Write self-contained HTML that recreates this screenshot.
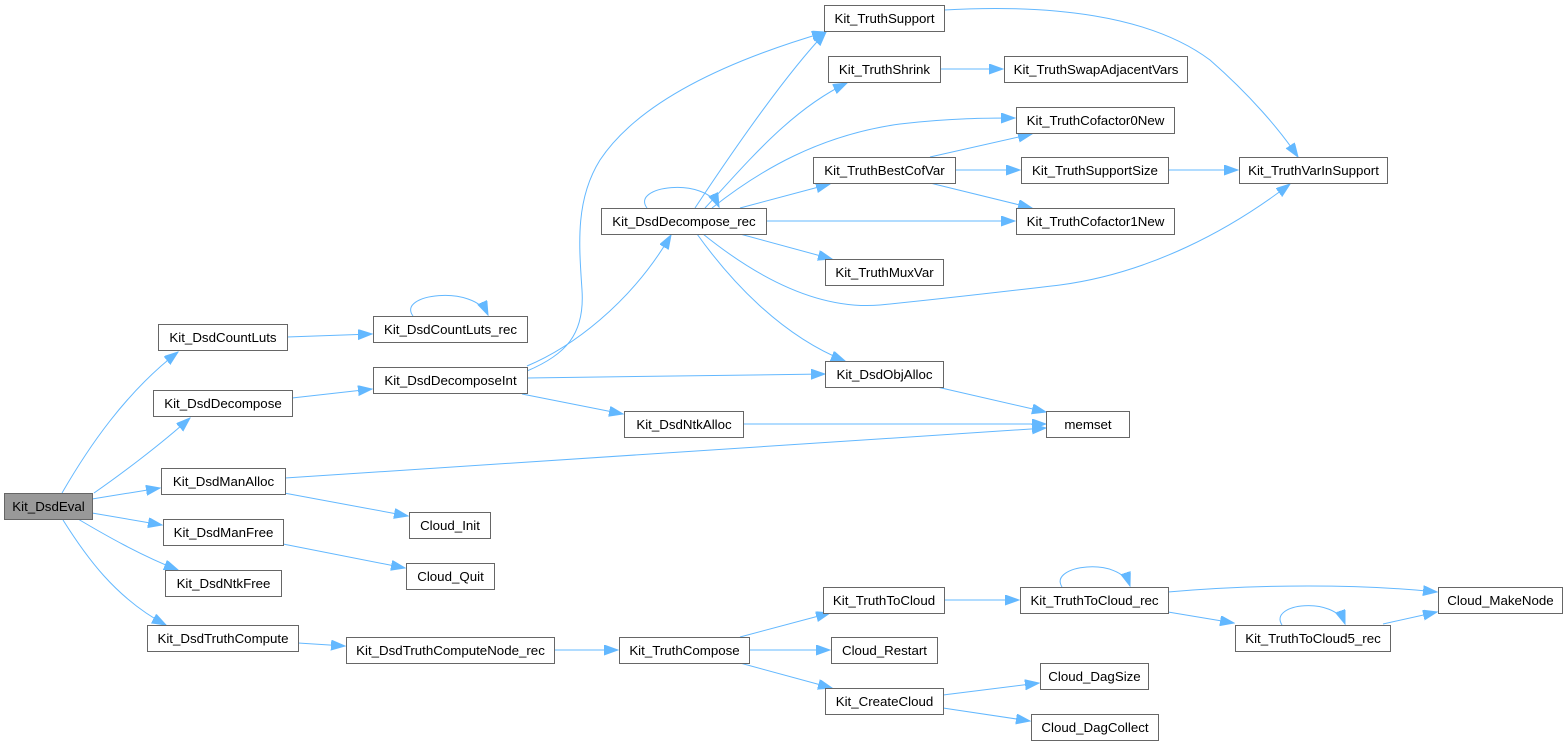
<!DOCTYPE html>
<html><head><meta charset="utf-8"><style>
html,body{margin:0;padding:0;background:#fff;}
svg{display:block;}
text{font-family:"Liberation Sans",Arial,sans-serif;font-size:13.3px;fill:#000;text-anchor:middle;}
.n{fill:#fff;stroke:#666;stroke-width:1;}
.e{fill:none;stroke:#63b8ff;stroke-width:1;}
</style></head><body>
<svg width="1568" height="745" viewBox="0 0 1568 745" xmlns="http://www.w3.org/2000/svg">
<defs>
<marker id="a" markerUnits="userSpaceOnUse" markerWidth="15" markerHeight="11" refX="14" refY="5" orient="auto">
<path d="M0,0 L14,5 L0,10 z" fill="#63b8ff" stroke="#63b8ff" stroke-width="1"/>
</marker>
</defs>
<g marker-end="url(#a)">
<path class="e" d="M62,493 C88,448 125,393 178,352"/>
<path class="e" d="M94,493 C120,475 160,445 190,418"/>
<path class="e" d="M92,499 L160,488"/>
<path class="e" d="M92,513 L162,525"/>
<path class="e" d="M78,519 C105,535 140,555 178,570"/>
<path class="e" d="M63,520 C85,555 115,598 166,625"/>
<path class="e" d="M287,337 L372,334"/>
<path class="e" d="M292,398 L372,389"/>
<path class="e" d="M285,478 L1046,428"/>
<path class="e" d="M284,493 L408,516"/>
<path class="e" d="M283,544 L405,568"/>
<path class="e" d="M298,643 L345,646"/>
<path class="e" d="M413,316 C396,294 474,284 488,315"/>
<path class="e" d="M527,366 C570,348 630,305 671,235"/>
<path class="e" d="M527,371 C565,355 585,335 582,290 C579,245 575,200 600,160 C640,100 730,60 826,32"/>
<path class="e" d="M527,378 L825,374"/>
<path class="e" d="M522,394 L623,414"/>
<path class="e" d="M647,208 C630,186 705,176 719,207"/>
<path class="e" d="M695,208 C740,140 790,70 826,32"/>
<path class="e" d="M705,208 C745,165 790,110 847,83"/>
<path class="e" d="M712,208 C760,170 820,135 900,124 C950,118 990,118 1015,118"/>
<path class="e" d="M740,208 L830,184"/>
<path class="e" d="M766,221 L1015,221"/>
<path class="e" d="M740,234 L832,259"/>
<path class="e" d="M697,234 C730,280 780,335 845,361"/>
<path class="e" d="M703,234 C760,280 820,310 880,305 C950,298 1000,292 1060,285 C1150,273 1230,230 1290,184"/>
<path class="e" d="M944,10 C1050,4 1150,15 1210,60 C1250,95 1280,130 1298,157"/>
<path class="e" d="M940,69 L1003,69"/>
<path class="e" d="M930,157 L1032,134"/>
<path class="e" d="M955,170 L1020,170"/>
<path class="e" d="M930,183 L1032,208"/>
<path class="e" d="M1168,170 L1238,170"/>
<path class="e" d="M937,387 L1046,412"/>
<path class="e" d="M743,424 L1046,424"/>
<path class="e" d="M554,650 L618,650"/>
<path class="e" d="M740,637 L830,613"/>
<path class="e" d="M749,650 L830,650"/>
<path class="e" d="M740,663 L832,688"/>
<path class="e" d="M944,600 L1019,600"/>
<path class="e" d="M1062,587 C1048,565 1120,556 1130,586"/>
<path class="e" d="M1168,592 C1260,584 1360,584 1437,592"/>
<path class="e" d="M1168,612 L1234,623"/>
<path class="e" d="M1282,625 C1268,603 1335,596 1345,624"/>
<path class="e" d="M1383,624 L1437,612"/>
<path class="e" d="M943,695 L1039,683"/>
<path class="e" d="M943,708 L1030,721"/>
</g>
<g>
<rect x="4.5" y="493.5" width="88" height="26" fill="#999" stroke="#666"/><text x="48.5" y="511">Kit_DsdEval</text>
<rect class="n" x="158.5" y="324.5" width="129" height="26"/><text x="223" y="342">Kit_DsdCountLuts</text>
<rect class="n" x="153.5" y="390.5" width="139" height="26"/><text x="223" y="408">Kit_DsdDecompose</text>
<rect class="n" x="161.5" y="468.5" width="124" height="26"/><text x="223.5" y="486">Kit_DsdManAlloc</text>
<rect class="n" x="163.5" y="519.5" width="120" height="26"/><text x="223.5" y="537">Kit_DsdManFree</text>
<rect class="n" x="165.5" y="570.5" width="116" height="26"/><text x="223.5" y="588">Kit_DsdNtkFree</text>
<rect class="n" x="147.5" y="625.5" width="151" height="26"/><text x="223" y="643">Kit_DsdTruthCompute</text>
<rect class="n" x="373.5" y="316.5" width="154" height="26"/><text x="450.5" y="334">Kit_DsdCountLuts_rec</text>
<rect class="n" x="373.5" y="367.5" width="154" height="26"/><text x="450.5" y="385">Kit_DsdDecomposeInt</text>
<rect class="n" x="409.5" y="512.5" width="81" height="26"/><text x="450" y="530">Cloud_Init</text>
<rect class="n" x="406.5" y="563.5" width="88" height="26"/><text x="450.5" y="581">Cloud_Quit</text>
<rect class="n" x="346.5" y="637.5" width="208" height="26"/><text x="450.5" y="655">Kit_DsdTruthComputeNode_rec</text>
<rect class="n" x="601.5" y="208.5" width="165" height="26"/><text x="684" y="226">Kit_DsdDecompose_rec</text>
<rect class="n" x="824.5" y="5.5" width="120" height="26"/><text x="884.5" y="23">Kit_TruthSupport</text>
<rect class="n" x="828.5" y="56.5" width="112" height="26"/><text x="884.5" y="74">Kit_TruthShrink</text>
<rect class="n" x="813.5" y="157.5" width="142" height="26"/><text x="884.5" y="175">Kit_TruthBestCofVar</text>
<rect class="n" x="825.5" y="259.5" width="118" height="26"/><text x="884.5" y="277">Kit_TruthMuxVar</text>
<rect class="n" x="825.5" y="361.5" width="118" height="26"/><text x="884.5" y="379">Kit_DsdObjAlloc</text>
<rect class="n" x="624.5" y="411.5" width="119" height="26"/><text x="684" y="429">Kit_DsdNtkAlloc</text>
<rect class="n" x="1046.5" y="411.5" width="83" height="26"/><text x="1088" y="429">memset</text>
<rect class="n" x="1004.5" y="56.5" width="183" height="26"/><text x="1096" y="74">Kit_TruthSwapAdjacentVars</text>
<rect class="n" x="1016.5" y="107.5" width="158" height="26"/><text x="1095.5" y="125">Kit_TruthCofactor0New</text>
<rect class="n" x="1021.5" y="157.5" width="147" height="26"/><text x="1095" y="175">Kit_TruthSupportSize</text>
<rect class="n" x="1016.5" y="208.5" width="158" height="26"/><text x="1095.5" y="226">Kit_TruthCofactor1New</text>
<rect class="n" x="1239.5" y="157.5" width="148" height="26"/><text x="1313.5" y="175">Kit_TruthVarInSupport</text>
<rect class="n" x="619.5" y="637.5" width="130" height="26"/><text x="684.5" y="655">Kit_TruthCompose</text>
<rect class="n" x="823.5" y="587.5" width="121" height="26"/><text x="884" y="605">Kit_TruthToCloud</text>
<rect class="n" x="831.5" y="637.5" width="106" height="26"/><text x="884.5" y="655">Cloud_Restart</text>
<rect class="n" x="825.5" y="688.5" width="118" height="26"/><text x="884.5" y="706">Kit_CreateCloud</text>
<rect class="n" x="1020.5" y="587.5" width="148" height="26"/><text x="1094.5" y="605">Kit_TruthToCloud_rec</text>
<rect class="n" x="1235.5" y="625.5" width="155" height="26"/><text x="1313" y="643">Kit_TruthToCloud5_rec</text>
<rect class="n" x="1438.5" y="587.5" width="124" height="26"/><text x="1500.5" y="605">Cloud_MakeNode</text>
<rect class="n" x="1040.5" y="663.5" width="108" height="26"/><text x="1094.5" y="681">Cloud_DagSize</text>
<rect class="n" x="1031.5" y="714.5" width="127" height="26"/><text x="1095" y="732">Cloud_DagCollect</text>
</g>
</svg>
</body></html>
